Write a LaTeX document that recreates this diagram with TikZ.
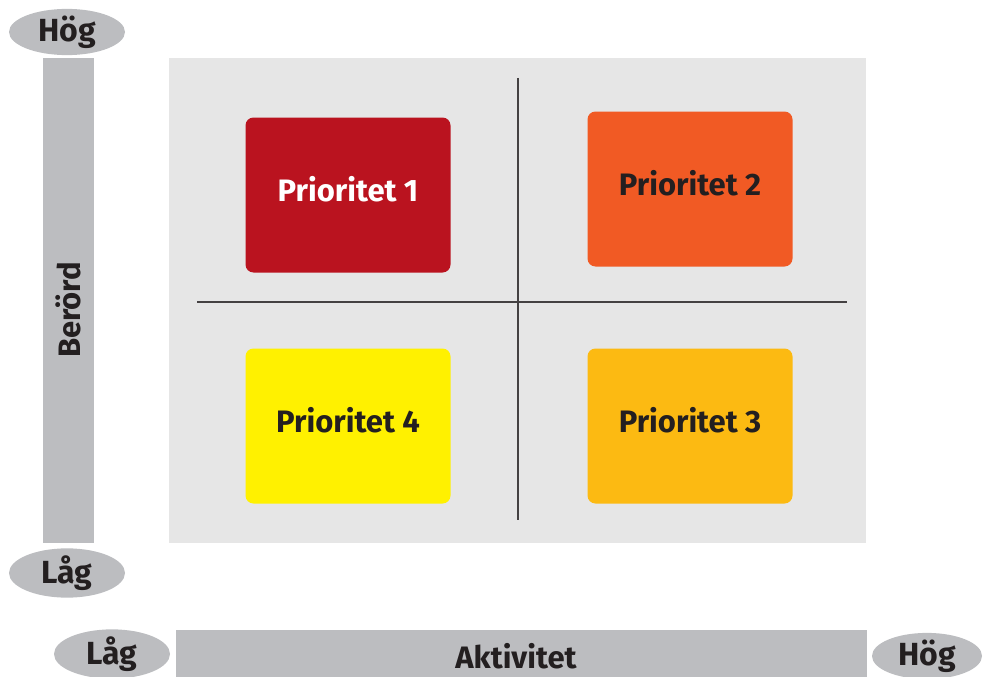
\documentclass[tikz,border=0pt]{standalone}
\usepackage{fontspec}
\setmainfont{Fira Sans}
\usepackage{tikz}
\usetikzlibrary{shapes.geometric}
\definecolor{bargray}{HTML}{BCBDC0}
\definecolor{fieldgray}{HTML}{E6E6E6}
\definecolor{textdark}{HTML}{231F20}
\definecolor{prio1}{HTML}{BA131F}
\definecolor{prio2}{HTML}{F15A24}
\definecolor{prio3}{HTML}{FCBA12}
\definecolor{prio4}{HTML}{FFF100}

\begin{document}
\begin{tikzpicture}[x=1pt,y=-1pt,
  endlabel/.style={ellipse,fill=bargray,minimum width=116pt,minimum height=39pt,inner sep=0pt,
    font=\fontsize{32}{32}\selectfont\bfseries,text=textdark},
  prio/.style={rounded corners=8pt,minimum width=205pt,minimum height=155pt,inner sep=0pt,
    text depth=12pt,font=\fontsize{31}{31}\selectfont\bfseries,text=textdark},
  axistext/.style={font=\fontsize{31}{31}\selectfont\bfseries,text=textdark}]
\useasboundingbox (0,0) rectangle (983,677);
%field
\fill [fieldgray] (169,58) rectangle (866,543);
\draw [line width=1.4pt,textdark!85] (518,78) -- (518,520);
\draw [line width=1.4pt,textdark!85] (197,302) -- (847,302);
%boxes
\node [prio,fill=prio1,text=white] (p1) at (348,195) {Prioritet 1};
\node [prio,fill=prio2] (p2) at (690,189) {Prioritet 2};
\node [prio,fill=prio4] (p4) at (348,426) {Prioritet 4};
\node [prio,fill=prio3] (p3) at (690,426) {Prioritet 3};
%vertical axis
\fill [bargray] (43,58) rectangle (94,543);
\node [axistext,rotate=90] (berord) at (68.5,310) {Berörd};
\node [endlabel] (vhog) at (67,32) {Hög};
\node [endlabel] (vlag) at (67,573) {Låg};
%horizontal axis
\fill [bargray] (176,630) rectangle (867,677);
\node [axistext] (aktivitet) at (516,656) {Aktivitet};
\node [endlabel] (hlag) at (112,654) {Låg};
\node [endlabel,minimum width=110pt] (hhog) at (927,656) {Hög};
\end{tikzpicture}
\end{document}
